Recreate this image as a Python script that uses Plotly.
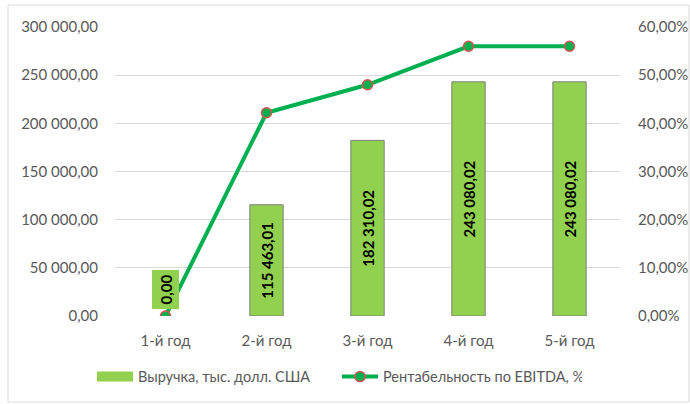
import plotly.graph_objects as go

categories = ["1-й год", "2-й год", "3-й год", "4-й год", "5-й год"]
revenue = [0.00, 115463.01, 182310.02, 243080.02, 243080.02]
ebitda_margin = [0.0, 0.422, 0.48, 0.56, 0.56]

revenue_name = "Выручка, тыс. долл. США"
margin_name = "Рентабельность по EBITDA, %"

FONT = "Lato, 'Open Sans', sans-serif"
GRAY = "#595959"

fig = go.Figure()

fig.add_trace(go.Bar(
    x=categories, y=revenue, name=revenue_name,
    marker=dict(color="#92D050",
                line=dict(color="#7F7F7F", width=[1 if v > 0 else 0 for v in revenue])),
    width=0.33,
    text=[f"{v:,.2f}".replace(",", " ").replace(".", ",") if v > 0 else "" for v in revenue],
    textposition="inside", insidetextanchor="middle", textangle=-90,
    textfont=dict(family=FONT, size=15, color="black", weight="bold"),
    constraintext="none",
    showlegend=False,
    yaxis="y",
))

# legend entry for the bars (wide rectangle symbol, as in the original)
fig.add_trace(go.Scatter(
    x=[None], y=[None], name=revenue_name, mode="lines",
    line=dict(color="#92D050", width=10),
    yaxis="y",
))

fig.add_trace(go.Scatter(
    x=categories, y=ebitda_margin, name=margin_name, mode="lines+markers",
    line=dict(color="#00B050", width=4),
    marker=dict(size=10, color="#00B050", line=dict(color="#D9534F", width=1.5)),
    yaxis="y2",
))

# zero-value label with box
fig.add_annotation(
    x=categories[0], y=revenue[0], xref="x", yref="y",
    text="<b>0,00</b>", textangle=-90, showarrow=False,
    yanchor="bottom", yshift=6,
    bgcolor="#92D050", borderpad=4,
    font=dict(family=FONT, size=15, color="black"),
)

fig.update_layout(
    width=690, height=404,
    margin=dict(l=115, r=70, t=27, b=88, autoexpand=False),
    paper_bgcolor="white", plot_bgcolor="white",
    separators=", ",
    font=dict(family=FONT, size=15, color=GRAY),
    bargap=0.67,
    showlegend=True,
    legend=dict(orientation="h", x=(92 - 115) / 505, xanchor="left", y=-0.21, yanchor="middle",
                font=dict(family=FONT, size=14.5, color=GRAY), traceorder="normal",
                itemwidth=36, entrywidth=194, entrywidthmode="pixels"),
    xaxis=dict(showgrid=False, showline=False, zeroline=False, ticks="", automargin=False,
               tickfont=dict(family=FONT, size=15, color=GRAY), ticklabelstandoff=14),
    yaxis=dict(range=[0, 300000], dtick=50000, tickformat=",.2f", automargin=False,
               showgrid=True, gridcolor="#D9D9D9", gridwidth=1, zeroline=False,
               showline=False, ticks="", ticklabelstandoff=16,
               tickfont=dict(family=FONT, size=15, color=GRAY)),
    yaxis2=dict(range=[0, 0.6], dtick=0.1, tickformat=".2%", overlaying="y", side="right",
                automargin=False,
                showgrid=False, zeroline=False, showline=False, ticks="", ticklabelstandoff=17,
                tickfont=dict(family=FONT, size=15, color=GRAY)),
    shapes=[dict(type="rect", xref="paper", yref="paper",
                 x0=(8 - 115) / 505, x1=(689 - 115) / 505,
                 y0=(316 - 402) / 289, y1=(316 - 5) / 289,
                 line=dict(color="#D9D9D9", width=1), layer="below")],
)

fig.write_html("out.html", config={"displayModeBar": False},
               post_script="document.body.style.margin='0';")
